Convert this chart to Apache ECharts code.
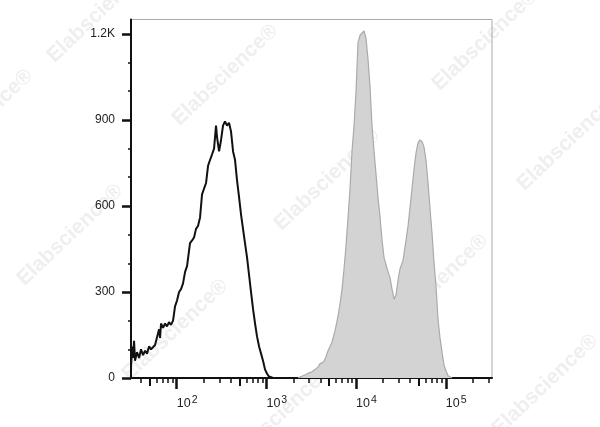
<!DOCTYPE html>
<html>
<head>
<meta charset="utf-8">
<script src="https://cdn.jsdelivr.net/npm/echarts@6/dist/echarts.min.js"></script>
<style>html,body{margin:0;padding:0;background:#fff;}#chart{width:600px;height:427px;}</style>
</head>
<body>
<div id="chart"></div>
<script>
// Fluorescence intensity (log10 units) and event counts
var controlLogX = [1.491,1.502,1.513,1.524,1.535,1.557,1.580,1.602,1.624,1.647,1.669,1.691,1.714,1.736,1.758,1.780,1.803,1.814,1.825,1.847,1.870,1.892,1.914,1.936,1.959,1.981,2.003,2.026,2.048,2.070,2.093,2.115,2.148,2.171,2.193,2.215,2.237,2.260,2.282,2.304,2.327,2.349,2.371,2.394,2.416,2.438,2.449,2.472,2.494,2.516,2.538,2.561,2.583,2.605,2.628,2.650,2.672,2.695,2.717,2.739,2.761,2.784,2.806,2.828,2.851,2.873,2.895,2.918,2.940,2.962,2.984,3.007,3.029,3.051,3.074];
var controlCounts = [40,110,70,130,60,90,70,100,80,95,85,110,100,105,115,110,170,140,190,175,190,180,195,185,200,250,270,300,310,330,370,390,470,480,490,520,530,560,640,660,680,740,760,780,800,880,840,790,830,880,895,880,890,860,790,760,690,630,570,520,470,420,360,300,240,190,145,110,85,60,30,15,5,2,0];
var stainedLogX = [3.352,3.375,3.408,3.441,3.475,3.508,3.542,3.575,3.598,3.631,3.653,3.687,3.709,3.731,3.765,3.798,3.821,3.843,3.865,3.887,3.910,3.932,3.954,3.977,3.999,4.021,4.044,4.066,4.088,4.110,4.133,4.155,4.177,4.200,4.222,4.244,4.267,4.289,4.311,4.333,4.356,4.378,4.400,4.423,4.445,4.467,4.489,4.523,4.556,4.579,4.601,4.623,4.646,4.668,4.690,4.712,4.735,4.757,4.779,4.802,4.824,4.846,4.869,4.891,4.913,4.935,4.958,4.980,5.002,5.025,5.047,5.069];
var stainedCounts = [0,3,8,12,18,22,30,38,50,55,65,95,110,125,165,215,260,310,380,460,560,660,790,880,1000,1170,1195,1200,1210,1185,1110,1015,880,790,710,630,560,480,420,395,370,350,310,275,290,340,380,410,480,530,595,660,730,785,820,830,825,805,760,680,590,505,400,320,205,140,90,45,25,8,2,0];
// Axis ticks
var xDecades = [2,3,4,5];
var xMidMultiplier = [5];
var xMinorMultipliers = [2,3,4,6,7,8,9];
var yMajorTicks = [0,300,600,900,1200];
var yMinorTicks = [100,200,400,500,700,800,1000,1100];
var xRange = [1.49, 5.515];
var yRange = [0, 1250];

function decadeTicks(mults){
  var out = [];
  for (var n = 1; n <= 5; n++) {
    mults.forEach(function(k){
      var v = n + Math.log10(k);
      if (v > xRange[0] && v < xRange[1]) out.push(v);
    });
  }
  return out;
}

var chart = echarts.init(document.getElementById('chart'));
var FONT = '"Liberation Sans", Arial, sans-serif';
var wmText = 'Elabscience®';
var wmPos = [[100,12],[225,75],[327,180],[435,285],[545,385],[485,40],[570,140],[-20,120],[70,235],[175,330],[280,415]];
var graphics = wmPos.map(function(p){
  return {type:'text', x:p[0], y:p[1], rotation:0.76, z:-10, silent:true,
    style:{text:wmText, font:'bold 21px ' + FONT, fill:'#efefef', align:'center', verticalAlign:'middle'}};
});

function hiddenX(vals, len, w){
  return {type:'value', min:xRange[0], max:xRange[1], gridIndex:0, position:'bottom',
    axisLine:{show:false, onZero:false}, splitLine:{show:false},
    axisLabel:{show:false},
    axisTick:{show:true, inside:false, customValues:vals, length:len, lineStyle:{color:'#111', width:w}}};
}

chart.setOption({
  animation:false,
  backgroundColor:'#fff',
  graphic: graphics,
  grid:{left:131, right:108, top:19.5, bottom:49, show:true, borderColor:'#aaa', borderWidth:1, backgroundColor:'transparent'},
  xAxis:[
    {type:'value', min:xRange[0], max:xRange[1], position:'bottom',
      axisLine:{show:true, onZero:false, lineStyle:{color:'#111', width:2}},
      splitLine:{show:false},
      axisTick:{show:true, inside:false, customValues:xDecades, length:11, lineStyle:{color:'#111', width:2.5}},
      axisLabel:{customValues:xDecades, align:'left', margin:17, color:'#222',
        formatter:function(v){ return '{b|10}{s|' + Math.round(v) + '}'; },
        rich:{b:{fontSize:12.5, fontFamily:FONT, color:'#222'},
              s:{fontSize:10.5, fontFamily:FONT, color:'#222', padding:[0,0,6,1]}}}},
    hiddenX(decadeTicks(xMidMultiplier), 8, 2),
    hiddenX(decadeTicks(xMinorMultipliers), 5, 1.5)
  ],
  yAxis:[
    {type:'value', min:yRange[0], max:yRange[1], position:'left',
      axisLine:{show:true, onZero:false, lineStyle:{color:'#111', width:2}},
      splitLine:{show:false},
      axisTick:{show:true, inside:false, customValues:yMajorTicks, length:9, lineStyle:{color:'#111', width:2.5}},
      axisLabel:{customValues:yMajorTicks, margin:16, color:'#222', fontSize:12, fontFamily:FONT,
        formatter:function(v){ return v >= 1000 ? (v/1000) + 'K' : String(v); }}},
    {type:'value', min:yRange[0], max:yRange[1], gridIndex:0, position:'left',
      axisLine:{show:false, onZero:false}, splitLine:{show:false}, axisLabel:{show:false},
      axisTick:{show:true, inside:false, customValues:yMinorTicks, length:3, lineStyle:{color:'#111', width:1.5}}}
  ],
  series:[
    {type:'line', name:'Stained', xAxisIndex:0, yAxisIndex:0, showSymbol:false, z:2,
      data: stainedLogX.map(function(x,i){ return [x, stainedCounts[i]]; }),
      lineStyle:{color:'#aaaaaa', width:1.2},
      areaStyle:{color:'#d3d3d3', opacity:1}},
    {type:'line', name:'Control', xAxisIndex:0, yAxisIndex:0, showSymbol:false, z:3,
      data: controlLogX.map(function(x,i){ return [x, controlCounts[i]]; }),
      lineStyle:{color:'#111', width:2}}
  ]
});
</script>
</body>
</html>
